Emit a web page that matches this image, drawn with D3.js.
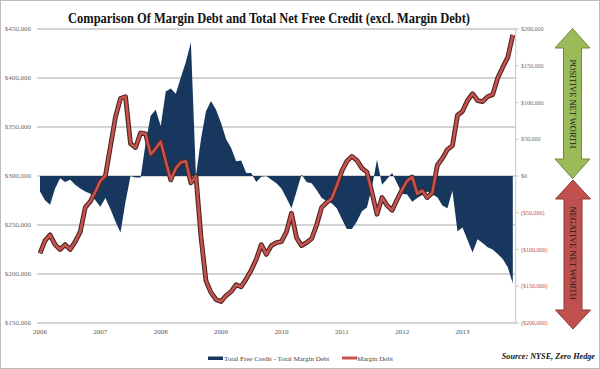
<!DOCTYPE html>
<html><head><meta charset="utf-8">
<script src="https://cdn.jsdelivr.net/npm/d3@7"></script>
<style>
html,body{margin:0;padding:0;background:#fff;}
svg{display:block;}
text{font-family:"Liberation Serif","Times New Roman",serif;}
</style></head>
<body>
<svg id="chart" width="600" height="369"></svg>
<script>
// Monthly data, Jan 2006 – Nov 2013 ($ millions)
const startYear = 2006;
const years = ["2006","2007","2008","2009","2010","2011","2012","2013"];
const marginDebt = [
 221000,234000,240000,230000,225000,230000,225000,233000,243000,268000,274000,284000,
 295000,300000,330000,360000,379000,381000,333000,329000,344000,343000,322000,328000,
 335000,315000,296000,308000,314000,315000,293000,300000,238000,193000,181000,174000,
 172000,178000,182000,189000,187000,195000,204000,215000,230000,220000,229000,232000,
 233000,243000,262000,237000,229000,232000,236000,250000,268000,273000,277000,290000,
 305000,315000,320000,316000,308000,304000,283000,261000,278000,270000,265000,276000,
 286000,295000,299000,282000,285000,278000,283000,311000,318000,327000,331000,362000,
 366000,377000,384000,377000,376000,381000,383000,400000,411000,421000,444000
];
const freeCreditNet = [
 -21000,-33000,-39000,-17000,-3000,-8000,-5000,-12000,-17000,-21000,-24000,-33000,
 -42000,-30000,-45000,-62000,-77000,-35000,0,-2000,-2000,45000,82000,90000,
 68000,115000,119000,112000,134000,155000,182000,0,50000,88000,102000,90000,
 72000,50000,38000,20000,21000,4000,4000,-8000,-1000,0,-5000,-10000,
 -17000,-30000,-44000,-21000,2000,-8000,-10000,-19000,-30000,-34000,-37000,-44000,
 -58000,-72000,-72000,-62000,-48000,-43000,-15000,22000,-12000,-4000,4000,-10000,
 -24000,-25000,-35000,-30000,-26000,-21000,-25000,-29000,-40000,-44000,-20000,-75000,
 -70000,-87000,-104000,-86000,-91000,-97000,-100000,-106000,-113000,-124000,-146000
];
const leftTicks = [150000,200000,250000,300000,350000,400000,450000];
const rightTicks = [-200000,-150000,-100000,-50000,0,50000,100000,150000,200000];
const seriesNames = ["Total Free Credit - Total Margin Debt","Margin Debt"];
const titleText = "Comparison Of Margin Debt and Total Net Free Credit (excl. Margin Debt)";
const sourceText = "Source: NYSE, Zero Hedge";
const arrowLabels = ["POSITIVE  NET  WORTH","NEGATIVE NET WORTH"];

const svg = d3.select("#chart");
const W = 600, H = 369;
const plot = {left:40, right:515.7, top:29, bottom:323};

const x = d3.scaleLinear().domain([0, marginDebt.length-1]).range([40, 512.8]);
const yL = d3.scaleLinear().domain([150000,450000]).range([plot.bottom, plot.top]);
const yR = d3.scaleLinear().domain([-200000,200000]).range([plot.bottom, plot.top]);

// border
svg.append("rect").attr("x",0.5).attr("y",0.5).attr("width",W-1).attr("height",H-1)
  .attr("fill","#fff").attr("stroke","#bdbdbd");

// title
svg.append("text").attr("x",68).attr("y",22.5)
  .attr("font-size",14.5).attr("font-weight","bold").attr("fill","#111")
  .attr("textLength",402).attr("lengthAdjust","spacingAndGlyphs").text(titleText);

// gridlines (left axis)
const fmt = d3.format(",");
svg.append("g").selectAll("line").data(leftTicks).join("line")
  .attr("x1",37).attr("x2",plot.right).attr("y1",d=>yL(d)).attr("y2",d=>yL(d))
  .attr("stroke","#c6c6c6").attr("stroke-width",1.3);
svg.append("g").selectAll("text").data(leftTicks).join("text")
  .attr("x",31).attr("y",d=>yL(d)+2.3).attr("text-anchor","end")
  .attr("font-size",7).attr("fill","#6b6b6b").text(d=>"$"+fmt(d));

// x labels
svg.append("g").selectAll("text").data(years).join("text")
  .attr("x",(d,i)=>x(i*12)).attr("y",334).attr("text-anchor","middle")
  .attr("font-size",7).attr("fill","#555").text(d=>d);

// area
const area = d3.area().x((d,i)=>x(i)).y0(yR(0)).y1(d=>yR(d));
svg.append("path").datum(freeCreditNet).attr("d",area).attr("fill","#17375e");

// right axis
svg.append("line").attr("x1",plot.right).attr("x2",plot.right).attr("y1",plot.top).attr("y2",plot.bottom)
  .attr("stroke","#c6c6c6").attr("stroke-width",1);
svg.append("g").selectAll("line").data(rightTicks).join("line")
  .attr("x1",plot.right).attr("x2",plot.right+3).attr("y1",d=>yR(d)).attr("y2",d=>yR(d))
  .attr("stroke","#c6c6c6");
svg.append("g").selectAll("text").data(rightTicks).join("text")
  .attr("x",521).attr("y",d=>yR(d)+2.1).attr("font-size",6)
  .attr("fill",d=>d<0?"#c0504d":"#6b6b6b")
  .text(d=> d<0 ? "($"+fmt(-d)+")" : "$"+fmt(d));

// margin debt line
const line = d3.line().x((d,i)=>x(i)).y(d=>yL(d));
svg.append("path").datum(marginDebt).attr("d",line).attr("fill","none")
  .attr("stroke","#4a2624").attr("stroke-width",4.8).attr("stroke-linejoin","round");
svg.append("path").datum(marginDebt).attr("d",line).attr("fill","none")
  .attr("stroke","#c9524f").attr("stroke-width",2.6).attr("stroke-linejoin","round");

// arrows
function dblArrow(cx, top, bottom, head, hw, sw){
  return `M${cx},${top} L${cx+hw},${top+head} L${cx+sw},${top+head} L${cx+sw},${bottom-head}
   L${cx+hw},${bottom-head} L${cx},${bottom} L${cx-hw},${bottom-head} L${cx-sw},${bottom-head}
   L${cx-sw},${top+head} L${cx-hw},${top+head} Z`;
}
svg.append("path").attr("d",dblArrow(572.5,28.5,178.5,19.5,17.5,9))
  .attr("fill","#9bbb59").attr("stroke","#71893f").attr("stroke-width",1);
svg.append("path").attr("d",dblArrow(573,180,329,19,17.5,9))
  .attr("fill","#c0504d").attr("stroke","#8c3836").attr("stroke-width",1);
svg.append("text").attr("transform","translate(569.5,104) rotate(90)").attr("text-anchor","middle")
  .attr("font-size",8.5).attr("fill","#1a1a1a").text(arrowLabels[0]);
svg.append("text").attr("transform","translate(570,253) rotate(90)").attr("text-anchor","middle")
  .attr("font-size",8.5).attr("fill","#1a1a1a").text(arrowLabels[1]);

// legend
svg.append("rect").attr("x",208).attr("y",356.5).attr("width",15).attr("height",3.5).attr("fill","#17375e");
svg.append("text").attr("x",224).attr("y",360.5).attr("font-size",7).attr("fill","#444").text(seriesNames[0]);
svg.append("rect").attr("x",342).attr("y",356.5).attr("width",15).attr("height",3).attr("fill","#c9524f");
svg.append("text").attr("x",357).attr("y",360.5).attr("font-size",7).attr("fill","#444").text(seriesNames[1]);

// source
svg.append("text").attr("x",595).attr("y",358.5).attr("text-anchor","end")
  .attr("font-size",8.2).attr("font-weight","bold").attr("font-style","italic").attr("fill","#111").text(sourceText);
</script>
</body></html>
